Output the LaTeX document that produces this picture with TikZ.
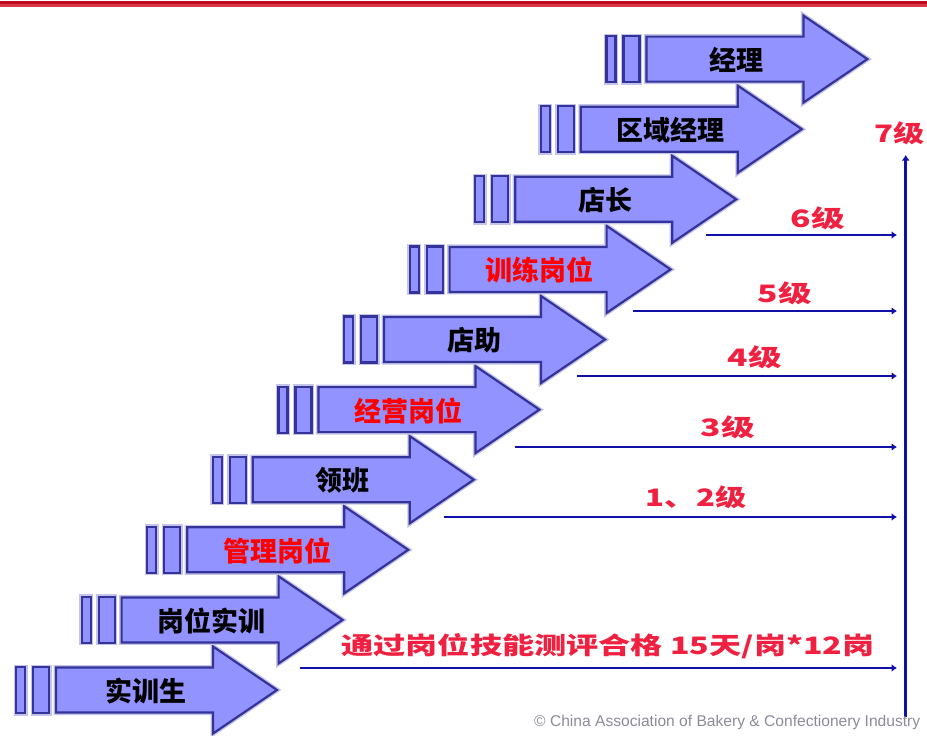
\documentclass[tikz,border=0pt]{standalone}
\usepackage{fontspec}
\setmainfont{Liberation Sans}
\newfontfamily\cjk{Noto Sans CJK SC}
\usetikzlibrary{arrows.meta}
\definecolor{arrowfill}{HTML}{9393FF}
\definecolor{arrowdraw}{HTML}{333399}
\definecolor{glowc}{HTML}{C4C4EA}
\definecolor{navy}{HTML}{1010A8}
\definecolor{lvlred}{HTML}{F02040}
\definecolor{boxred}{HTML}{FF0000}
\definecolor{topred}{HTML}{BE0A1E}
\definecolor{topred2}{HTML}{D63A48}
\definecolor{copyc}{HTML}{8C8C98}
\tikzset{
  stepshape/.style={fill=arrowfill, draw=arrowdraw, line width=2.2pt, line join=miter},
  stepglow/.style={draw=glowc, line width=5pt, line join=miter},
  steptext/.style={font=\cjk\bfseries\fontsize{27}{27}\selectfont, inner sep=0pt, anchor=center},
  lvlline/.style={draw=navy, line width=2.6pt, -{Latex[length=5.5pt,width=8pt]}},
  lvltext/.style={font=\cjk\bfseries\fontsize{24}{24}\selectfont, text=lvlred, inner sep=0pt}
}
\begin{document}
\begin{tikzpicture}[x=1pt,y=-1pt]
\useasboundingbox (0,0) rectangle (927,736);
\fill[white] (0,0) rectangle (927,736);
\fill[topred] (0,1) rectangle (927,4.2);
\fill[topred2] (0,4.2) rectangle (927,7);

\foreach \i/\txt/\col in {0/实训生/black, 1/岗位实训/black, 2/管理岗位/boxred, 3/领班/black, 4/经营岗位/boxred, 5/店助/black, 6/训练岗位/boxred, 7/店长/black, 8/区域经理/black, 9/经理/black} {
  \pgfmathsetmacro{\L}{55+65.6*\i}
  \pgfmathsetmacro{\C}{690-70.1*\i}
  \begin{scope}[shift={(\L,\C)}]
    \draw[stepglow] (-39,-23) rectangle (-30,23);
    \draw[stepglow] (-22,-23) rectangle (-6,23);
    \draw[stepglow] (1,-22.5) -- (158,-22.5) -- (158,-43.5) -- (222,0) -- (158,43.5) -- (158,22.5) -- (1,22.5) -- cycle;
    \draw[stepshape] (-39,-23) rectangle (-30,23);
    \draw[stepshape] (-22,-23) rectangle (-6,23);
    \draw[stepshape] (1,-22.5) -- (158,-22.5) -- (158,-43.5) -- (222,0) -- (158,43.5) -- (158,22.5) -- (1,22.5) -- cycle;
    \node[steptext, text=\col] (a\i) at (91,1) {\txt};
  \end{scope}
}

% vertical axis
\coordinate (vb) at (905.7,717);
\coordinate (vt) at (905.7,155);
\draw[lvlline, line width=3pt] (vb) -- (vt);

% level lines
\coordinate (s6) at (706,235);   \coordinate (e6) at (897,235);
\coordinate (s5) at (633,311);   \coordinate (e5) at (897,311);
\coordinate (s4) at (577,376);   \coordinate (e4) at (897,376);
\coordinate (s3) at (515,447);   \coordinate (e3) at (897,447);
\coordinate (s12) at (444,517);  \coordinate (e12) at (897,517);
\coordinate (s0) at (300,668);   \coordinate (e0) at (897,668);
\foreach \n in {6,5,4,3,12,0} { \draw[lvlline] (s\n) -- (e\n); }

% level labels
\node[lvltext, anchor=west] (l7) at (874,133) {\scalebox{1.3}[1]{7级}};
\node[lvltext] (l6) at (818,218) {\scalebox{1.4}[1]{6级}};
\node[lvltext] (l5) at (785,293) {\scalebox{1.4}[1]{5级}};
\node[lvltext] (l4) at (755,357) {\scalebox{1.4}[1]{4级}};
\node[lvltext] (l3) at (728,427) {\scalebox{1.4}[1]{3级}};
\node[lvltext] (l12) at (696,497) {\scalebox{1.3}[1]{1、2级}};
\node[lvltext] (lb) at (608,646) {\scalebox{1.34}[1]{通过岗位技能测评合格 15天/岗*12岗}};

% copyright
\node[anchor=west, inner sep=0pt, text=copyc, font=\fontsize{15.6}{15.6}\selectfont] (cp) at (534,722) {© China Association of Bakery \& Confectionery Industry};
\end{tikzpicture}
\end{document}
